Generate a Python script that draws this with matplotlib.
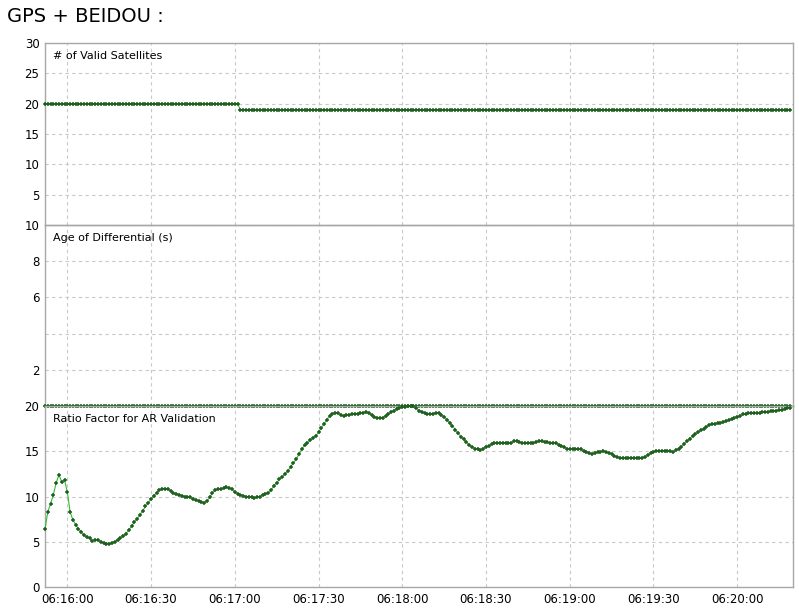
import numpy as np
import matplotlib
matplotlib.use('Agg')
import matplotlib.pyplot as plt
import matplotlib.dates as mdates

#time axis: 1 Hz samples starting 06:15:52
start = np.datetime64('2015-01-01T06:15:52')

#ratio factor, one value per second
ratio = [
    6.4, 8.3, 9.2, 10.2, 11.5, 12.4, 11.6, 11.8, 10.5, 8.3,
    7.4, 6.9, 6.4, 6.1, 5.7, 5.5, 5.4, 5.1, 5.2, 5.2,
    5.0, 4.9, 4.8, 4.7, 4.9, 5.0, 5.2, 5.4, 5.6, 5.9,
    6.3, 6.7, 7.2, 7.5, 8.0, 8.4, 8.9, 9.3, 9.7, 10.1,
    10.4, 10.7, 10.8, 10.8, 10.8, 10.6, 10.4, 10.3, 10.2, 10.1,
    10.0, 10.0, 9.9, 9.7, 9.6, 9.5, 9.4, 9.3, 9.5, 9.9,
    10.4, 10.7, 10.8, 10.8, 10.9, 11.0, 10.9, 10.8, 10.5, 10.3,
    10.2, 10.1, 10.0, 10.0, 9.9, 9.8, 9.9, 10.0, 10.2, 10.3,
    10.4, 10.7, 11.2, 11.5, 11.9, 12.2, 12.5, 12.8, 13.3, 13.7,
    14.1, 14.7, 15.2, 15.7, 15.9, 16.2, 16.5, 16.7, 17.1, 17.6,
    18.0, 18.5, 18.9, 19.1, 19.2, 19.2, 19.0, 18.9, 19.0, 19.0,
    19.1, 19.1, 19.1, 19.2, 19.2, 19.3, 19.2, 19.0, 18.8, 18.7,
    18.7, 18.7, 18.9, 19.1, 19.3, 19.5, 19.7, 19.8, 19.9, 19.9,
    20.0, 20.0, 20.0, 19.8, 19.5, 19.3, 19.2, 19.1, 19.1, 19.1,
    19.2, 19.2, 19.0, 18.8, 18.5, 18.1, 17.8, 17.4, 17.0, 16.6,
    16.3, 16.0, 15.7, 15.5, 15.3, 15.2, 15.1, 15.3, 15.5, 15.6,
    15.8, 15.9, 15.9, 15.9, 15.9, 15.9, 15.9, 15.9, 16.1, 16.1,
    16.0, 15.9, 15.9, 15.9, 15.9, 15.9, 16.0, 16.1, 16.1, 16.0,
    16.0, 15.9, 15.9, 15.9, 15.7, 15.6, 15.5, 15.3, 15.2, 15.2,
    15.2, 15.2, 15.2, 15.0, 14.9, 14.8, 14.7, 14.8, 14.9, 14.9,
    15.0, 14.9, 14.8, 14.7, 14.5, 14.4, 14.3, 14.2, 14.2, 14.3,
    14.3, 14.3, 14.3, 14.3, 14.3, 14.4, 14.6, 14.8, 14.9, 15.0,
    15.0, 15.0, 15.0, 15.0, 15.0, 14.9, 15.1, 15.3, 15.5, 15.8,
    16.1, 16.4, 16.7, 16.9, 17.1, 17.3, 17.5, 17.7, 17.9, 18.0,
    18.0, 18.1, 18.1, 18.2, 18.3, 18.4, 18.6, 18.7, 18.8, 18.9,
    19.1, 19.1, 19.2, 19.2, 19.2, 19.2, 19.2, 19.3, 19.3, 19.3,
    19.4, 19.4, 19.5, 19.6, 19.6, 19.7, 19.8, 19.8,
]
n = len(ratio)
times = start + np.arange(n).astype('timedelta64[s]')

#valid satellites: 20 then 19
sat_levels = [20, 19]
sat_counts = [70, n - 70]
sats = np.repeat(sat_levels, sat_counts)

#age of differential (s)
age = np.zeros(n)

xmin = np.datetime64('2015-01-01T06:15:52')
xmax = np.datetime64('2015-01-01T06:20:20')

line_c = '#33bb33'
mark_c = '#1f5f1f'
grid_c = '#c8c8c8'
frame_c = '#a8a8a8'

fig = plt.figure(figsize=(7.99, 6.10), dpi=100)
fig.text(7/799, 1 - 16/610, 'GPS + BEIDOU :', fontsize=14, family='DejaVu Sans',
         ha='left', va='center')

L, W = 45/799, 748/799
ax1 = fig.add_axes([L, 1 - 225/610, W, 182/610])
ax2 = fig.add_axes([L, 1 - 406/610, W, 181/610])
ax3 = fig.add_axes([L, 1 - 587/610, W, 181/610])

def style(ax, yl, yt, ylab, title):
    ax.set_facecolor('none')
    ax.set_xlim(xmin, xmax)
    ax.set_ylim(*yl)
    ax.set_yticks(yt)
    ax.set_yticklabels(ylab)
    ax.xaxis.set_major_locator(mdates.SecondLocator(bysecond=[0, 30]))
    ax.xaxis.set_major_formatter(mdates.DateFormatter('%H:%M:%S'))
    ax.grid(True, color=grid_c, linestyle=(0, (3, 3)), linewidth=0.8)
    ax.tick_params(length=0, labelsize=8.5, pad=4)
    for s in ax.spines.values():
        s.set_color(frame_c)
        s.set_linewidth(1)
    ax.text(8/748, 0.955, title, transform=ax.transAxes, fontsize=8,
            ha='left', va='top')

style(ax1, (0, 30), [5, 10, 15, 20, 25, 30], ['5', '10', '15', '20', '25', '30'],
      '# of Valid Satellites')
style(ax2, (0, 10), [2, 4, 6, 8, 10], ['2', '', '6', '8', '10'],
      'Age of Differential (s)')
style(ax3, (0, 20), [0, 5, 10, 15, 20], ['0', '5', '10', '15', '20'],
      'Ratio Factor for AR Validation')
ax1.tick_params(labelbottom=False)
ax2.tick_params(labelbottom=False)

kw = dict(color=line_c, lw=0.8, marker='+', ms=3.5, mew=1.1, mec=mark_c, clip_on=False, zorder=5)
ax1.plot(times, sats, **kw)
ax2.plot(times, age, **kw)
ax3.plot(times, ratio, **kw)

fig.savefig('out.png', dpi=100)
